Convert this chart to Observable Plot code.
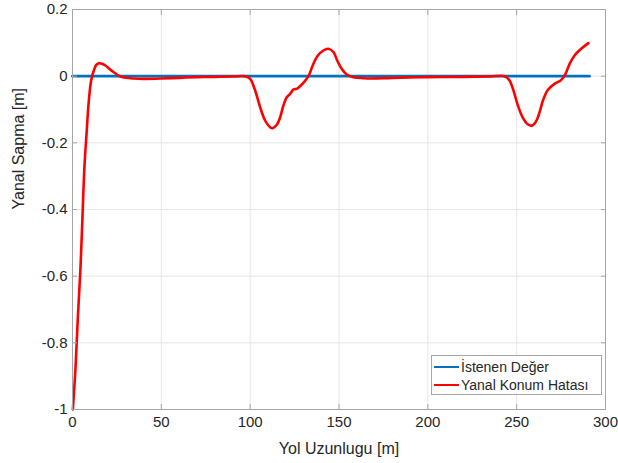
<!DOCTYPE html>
<html>
<head>
<meta charset="utf-8">
<script src="https://cdn.jsdelivr.net/npm/d3@7"></script>
<script src="https://cdn.jsdelivr.net/npm/@observablehq/plot@0.6"></script>
<style>
  html, body { margin: 0; padding: 0; background: #fff; }
  #wrap { position: relative; width: 618px; height: 463px; font-family: "Liberation Sans", Arial, sans-serif; }
  #legend { position: absolute; left: 431px; top: 355px; width: 171px; height: 40px; border: 1px solid #a6a6a6; background: #fff; font-size: 14px; color: #262626; box-sizing: border-box; }
  .row { position: absolute; left: 2px; height: 17px; display: flex; align-items: center; }
  .sw { width: 25px; height: 2px; margin-right: 2px; }
</style>
</head>
<body>
<div id="wrap"></div>
<script>
const xTicks = [0, 50, 100, 150, 200, 250, 300];
const yTicks = [-1, -0.8, -0.6, -0.4, -0.2, 0, 0.2];
const seriesNames = ["İstenen Değer", "Yanal Konum Hatası"];
const seriesColors = ["#0072BD", "#FF0000"];

const refX = [0, 291];
const refY = [0, 0];

const errX = [0.2, 1.7, 3.0, 4.5, 5.6, 6.7, 7.9, 9.2, 10.5, 12, 13.3, 14.8, 16.5, 18.5, 21, 23.2, 25, 27, 30, 34.4, 40, 50, 60, 70, 80, 90, 97.2,
  100, 102.8, 105.6, 108.4, 111.2, 112.7, 115, 116.9, 118.7, 120.6, 122.5, 124.3, 126.2, 128.1, 130.3, 132.8, 135.2, 137.8, 141.2, 144, 146.9, 149, 151.5, 154.3, 158, 163.7,
  167, 180, 199, 220, 235, 243.3, 246, 247.9, 250.7, 253.5, 256.4, 258.8, 261, 262.9, 264.8, 267.6, 271.3, 275.1, 277.5, 279.8, 282.6, 286.3, 290.4];
const errY = [-1.0, -0.875, -0.725, -0.574, -0.424, -0.274, -0.173, -0.073, -0.013, 0.017, 0.033, 0.039, 0.037, 0.032, 0.021, 0.012, 0.005, -0.001, -0.005, -0.007, -0.008, -0.007, -0.005, -0.003, -0.002, -0.001, 0,
  -0.008, -0.043, -0.093, -0.133, -0.153, -0.156, -0.146, -0.123, -0.088, -0.063, -0.053, -0.040, -0.038, -0.030, -0.018, 0, 0.032, 0.060, 0.077, 0.082, 0.072, 0.047, 0.022, 0.005, -0.003, -0.006,
  -0.007, -0.005, -0.003, -0.002, -0.001, 0, -0.013, -0.038, -0.088, -0.125, -0.145, -0.148, -0.135, -0.108, -0.073, -0.041, -0.023, -0.011, 0.007, 0.037, 0.062, 0.082, 0.099];

const ref = refX.map((x, i) => ({x, y: refY[i]}));
const err = errX.map((x, i) => ({x, y: errY[i]}));

const axisColor = "#262626";
const chart = Plot.plot({
  width: 618,
  height: 463,
  marginLeft: 72,
  marginRight: 13,
  marginTop: 9,
  marginBottom: 54,
  style: { fontFamily: "'Liberation Sans', Arial, sans-serif", color: axisColor, background: "#fff" },
  x: { domain: [0, 300], label: null },
  y: { domain: [-1, 0.2], label: null },
  marks: [
    Plot.gridX(xTicks, { stroke: "#e6e6e6", strokeOpacity: 1 }),
    Plot.gridY(yTicks, { stroke: "#e6e6e6", strokeOpacity: 1 }),
    Plot.line(ref, { x: "x", y: "y", stroke: seriesColors[0], strokeWidth: 2.8 }),
    Plot.line(err, { x: "x", y: "y", stroke: seriesColors[1], strokeWidth: 2.6, curve: "catmull-rom" }),
    Plot.frame({ stroke: "#a6a6a6" }),
    Plot.axisX(xTicks, { anchor: "bottom", tickSize: -5, stroke: "#a6a6a6", text: null }),
    Plot.axisX(xTicks, { anchor: "top", tickSize: -5, stroke: "#a6a6a6", text: null }),
    Plot.axisY(yTicks, { anchor: "left", tickSize: -5, stroke: "#a6a6a6", text: null }),
    Plot.axisY(yTicks, { anchor: "right", tickSize: -5, stroke: "#a6a6a6", text: null }),
    Plot.axisX(xTicks, { anchor: "bottom", tickSize: 0, tickPadding: 7, fontSize: 15, fill: axisColor, tickFormat: d => String(d) }),
    Plot.axisY(yTicks, { anchor: "left", tickSize: 0, tickPadding: 5, fontSize: 15, fill: axisColor, tickFormat: d => String(d) }),
    Plot.text(["Yol Uzunlugu [m]"], { frameAnchor: "bottom", dy: 44, fontSize: 16, fill: axisColor }),
    Plot.text(["Yanal Sapma [m]"], { frameAnchor: "left", dx: -54, rotate: -90, fontSize: 16, fill: axisColor })
  ]
});

const wrap = document.getElementById("wrap");
wrap.appendChild(chart);
const legend = document.createElement("div");
legend.id = "legend";
seriesNames.forEach((name, i) => {
  const row = document.createElement("div");
  row.className = "row";
  row.style.top = (2 + i * 18) + "px";
  const sw = document.createElement("span");
  sw.className = "sw";
  sw.style.background = seriesColors[i];
  const t = document.createElement("span");
  t.textContent = name;
  row.appendChild(sw);
  row.appendChild(t);
  legend.appendChild(row);
});
wrap.appendChild(legend);
</script>
</body>
</html>
